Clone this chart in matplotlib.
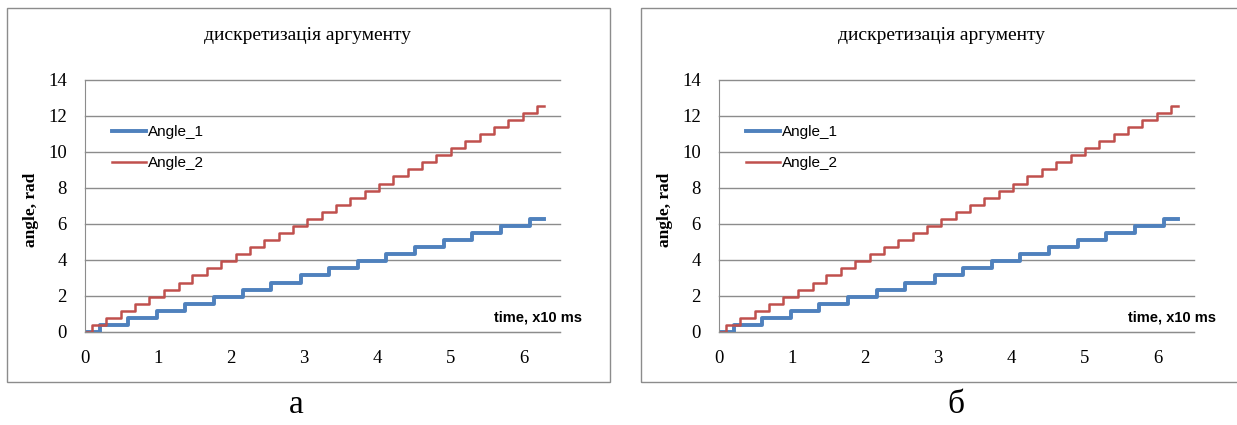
import matplotlib
matplotlib.use("Agg")

import matplotlib.pyplot as plt
from matplotlib.patches import Rectangle

# --- data ---
# Angle_1: step transitions (time, x10 ms) and levels (rad)
t1 = [0, 0.20, 0.59, 0.98, 1.37, 1.77, 2.16, 2.55, 2.95, 3.34, 3.73,
      4.12, 4.52, 4.91, 5.30, 5.69, 6.09, 6.28]
angle_1 = [0, 0.39, 0.79, 1.18, 1.57, 1.96, 2.36, 2.75, 3.14, 3.53, 3.93,
           4.32, 4.71, 5.11, 5.50, 5.89, 6.28, 6.28]

# Angle_2
t2 = [0, 0.10, 0.29, 0.49, 0.69, 0.88, 1.08, 1.28, 1.47, 1.67, 1.86,
      2.06, 2.26, 2.45, 2.65, 2.85, 3.04, 3.24, 3.44, 3.63, 3.83, 4.02,
      4.22, 4.42, 4.61, 4.81, 5.01, 5.20, 5.40, 5.60, 5.79, 5.99, 6.18, 6.28]
angle_2 = [0, 0.39, 0.79, 1.18, 1.57, 1.96, 2.36, 2.75, 3.14, 3.53, 3.93,
           4.32, 4.71, 5.11, 5.50, 5.89, 6.28, 6.68, 7.07, 7.46, 7.85, 8.25,
           8.64, 9.03, 9.42, 9.82, 10.21, 10.60, 11.00, 11.39, 11.78, 12.17,
           12.57, 12.57]

x_ticks = [0, 1, 2, 3, 4, 5, 6]
y_ticks = [0, 2, 4, 6, 8, 10, 12, 14]
title = "дискретизація аргументу"
captions = ["а", "б"]

W, H = 1237, 425
BLUE = "#4F81BD"
RED = "#C0504D"
GRID = "#8C8C8C"
SERIF = "Liberation Serif"
SANS = ["Liberation Sans Narrow", "Liberation Sans", "DejaVu Sans"]

fig = plt.figure(figsize=(W / 100, H / 100), dpi=100)
fig.patch.set_facecolor("white")


def draw_panel(dx, caption, caption_x):
    # рамка діаграми
    fig.patches.append(Rectangle(((7 + dx) / W, (H - 382) / H), 603 / W, 374 / H,
                                 transform=fig.transFigure, fill=False,
                                 edgecolor="#8C8C8C", linewidth=1.0))
    ax = fig.add_axes([(85 + dx) / W, (H - 332) / H, 475 / W, 252 / H])
    ax.step(t1, angle_1, where="post", color=BLUE, linewidth=2.8, label="Angle_1")
    ax.step(t2, angle_2, where="post", color=RED, linewidth=1.8, label="Angle_2")

    ax.set_xlim(0, 6.5)
    ax.set_ylim(0, 14)
    ax.set_xticks(x_ticks)
    ax.set_yticks(y_ticks)
    ax.grid(axis="y", color=GRID, linewidth=1.0)
    for gl in ax.get_ygridlines():
        gl.set_clip_on(False)
    ax.set_axisbelow(True)
    for s in ["top", "right"]:
        ax.spines[s].set_visible(False)
    ax.spines["left"].set_color(GRID)
    ax.spines["bottom"].set_color(GRID)
    ax.tick_params(length=0, labelsize=13.5, pad=13)
    for lab in ax.get_xticklabels() + ax.get_yticklabels():
        lab.set_fontfamily(SERIF)

    ax.set_ylabel("angle, rad", fontfamily=SERIF, fontweight="bold", fontsize=12.5)
    ax.yaxis.set_label_coords(-0.097, 0.484)

    ax.text(0.861, 0.056, "time, x10 ms", transform=ax.transAxes,
            ha="left", va="center", fontsize=10.5, fontweight="bold", family=SANS)

    ax.legend(loc="center left", bbox_to_anchor=(0.057, 0.732),
              frameon=False, borderpad=0, borderaxespad=0,
              handlelength=2.2, handletextpad=0.15, labelspacing=1.1,
              prop={"family": SANS, "size": 11})

    fig.text((308 + dx) / W, 1 - 35 / H, title, ha="center", va="center",
             fontfamily=SERIF, fontsize=14)
    fig.text(caption_x / W, 1 - 405 / H, caption,
             ha="center", va="center", fontfamily=SERIF, fontsize=24)
    return ax


draw_panel(0, captions[0], 296)
draw_panel(634, captions[1], 956)

plt.savefig("out.png", dpi=100)
plt.close()
